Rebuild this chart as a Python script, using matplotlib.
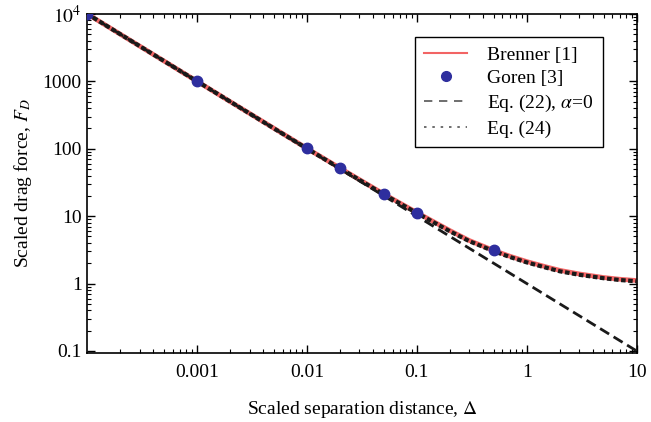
import matplotlib
matplotlib.use('Agg')
import matplotlib.pyplot as plt
from matplotlib.lines import Line2D
from matplotlib.ticker import FixedLocator, LogLocator, NullFormatter

plt.rcParams['font.family'] = ['Liberation Serif', 'DejaVu Serif']
plt.rcParams['mathtext.fontset'] = 'stix'

# Brenner [1] exact solution
delta = [1e-4, 2e-4, 5e-4, 1e-3, 2e-3, 5e-3, 0.01, 0.02, 0.05, 0.1, 0.2, 0.3,
         0.5, 0.7, 1.0, 1.5, 2.0, 3.0, 5.0, 7.0, 10.0]
brenner = [10000, 5000, 2000, 1000, 500, 201, 101, 51.5, 21.3, 11.3, 6.1, 4.35,
           3.1, 2.55, 2.12, 1.77, 1.57, 1.39, 1.23, 1.16, 1.11]
# Eq. (24)
eq24 = [10000, 5000, 2000, 1000, 500, 200, 100.5, 51, 21, 11.1, 5.95, 4.25,
        3.02, 2.48, 2.06, 1.72, 1.52, 1.35, 1.2, 1.13, 1.08]
# Eq. (22), alpha = 0
eq22_x = [1e-4, 10.0]
eq22_y = [10000, 0.1]
# Goren [3]
goren_x = [1e-4, 0.001, 0.01, 0.02, 0.05, 0.1, 0.5]
goren_y = [10000, 1000, 101, 51, 21.5, 11.3, 3.2]

red = '#f26464'
blue = '#2e2e9e'
black = '#1a1a1a'

fig = plt.figure(figsize=(6.51, 4.22), dpi=100)
ax = fig.add_axes([0.134, 0.164, 0.844, 0.803])

ax.plot(delta, brenner, color=red, lw=3.4, zorder=2)
ax.plot(goren_x, goren_y, 'o', color=blue, ms=7.5, zorder=4)
ax.plot(eq22_x, eq22_y, color=black, lw=2.0, dashes=(3.8, 1.9), zorder=3)
ax.plot(delta, eq24, color=black, lw=3.0, dashes=(1.1, 0.6), zorder=3)

ax.set_xscale('log')
ax.set_yscale('log')
ax.set_xlim(1e-4, 10)
ax.set_ylim(0.094, 1e4)

ax.xaxis.set_major_locator(FixedLocator([1e-3, 1e-2, 1e-1, 1, 10]))
ax.set_xticklabels(['0.001', '0.01', '0.1', '1', '10'])
ax.yaxis.set_major_locator(FixedLocator([0.1, 1, 10, 100, 1000, 1e4]))
ax.set_yticklabels(['0.1', '1', '10', '100', '1000', r'$10^4$'])
ax.xaxis.set_minor_locator(LogLocator(base=10, subs=range(2, 10), numticks=20))
ax.yaxis.set_minor_locator(LogLocator(base=10, subs=range(2, 10), numticks=20))
ax.xaxis.set_minor_formatter(NullFormatter())
ax.yaxis.set_minor_formatter(NullFormatter())

ax.tick_params(which='both', direction='in', top=True, right=True, labelsize=14)
ax.tick_params(which='major', length=6, width=1)
ax.tick_params(which='minor', length=3, width=0.8)
ax.tick_params(axis='x', pad=8)
ax.tick_params(axis='y', pad=4)
for s in ax.spines.values():
    s.set_linewidth(1.2)

ax.set_xlabel(r'Scaled separation distance, $\Delta$', fontsize=14, labelpad=13)
ax.set_ylabel(r'Scaled drag force, $F_D$', fontsize=14, labelpad=6)

handles = [
    Line2D([], [], color=red, lw=1.5),
    Line2D([], [], ls='none', marker='o', color=blue, ms=7),
    Line2D([], [], color='#555555', lw=1.2, dashes=(5, 4)),
    Line2D([], [], color='#555555', lw=1.2, dashes=(1.5, 3.5)),
]
labels = ['Brenner [1]', 'Goren [3]', r'Eq. (22), $\alpha$=0', 'Eq. (24)']
leg = ax.legend(handles, labels, loc='upper right', bbox_to_anchor=(0.956, 0.962),
                fontsize=14, fancybox=False, edgecolor='black', framealpha=1,
                handlelength=2.2, handletextpad=1.0, borderpad=0.5,
                labelspacing=0.3)
leg.get_frame().set_linewidth(1.0)

fig.savefig('out.png', dpi=100)
